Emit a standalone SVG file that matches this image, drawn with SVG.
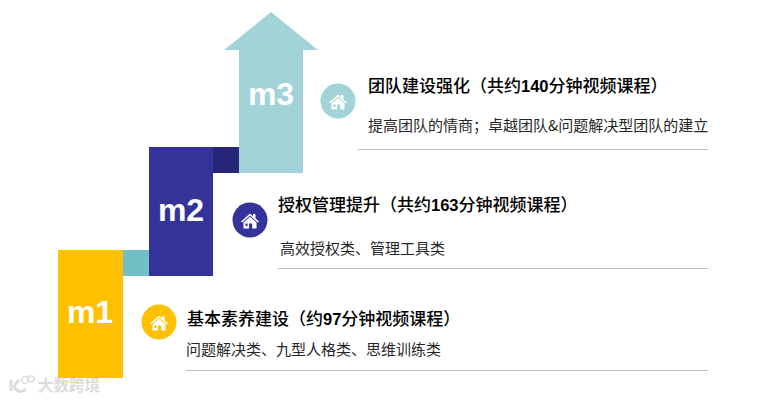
<svg xmlns="http://www.w3.org/2000/svg" width="764" height="400" viewBox="0 0 764 400">
<defs>
<style>
.m{font-family:"Liberation Sans",Arial,sans-serif;font-weight:700;font-size:32px;fill:#fff;text-anchor:middle}
.t{font-family:"Liberation Sans","Noto Sans CJK SC",sans-serif;font-size:17px;font-weight:500;fill:#000}
.d{font-weight:700;font-size:16.5px}
.s{font-family:"Noto Sans CJK SC",sans-serif;font-size:15px;fill:#262626}
.r{stroke:#bfbfbf;stroke-width:1;fill:none}
</style>
<g id="house">
<path d="M-9 0.5L0 -7.5L3 -4.8V-7H5.5V-2.6L9 0.5L7.8 1.5L0 -5.4L-7.8 1.5Z" fill="#fff"/>
<path d="M-6.5 1.5L0 -4.2L6.5 1.5V7.5H2.2V2.5H-1V7.5H-6.5Z M-4.6 2.5V5H-2.4V2.5Z" fill="#fff" fill-rule="evenodd"/>
</g>
</defs>
<rect width="764" height="400" fill="#fff"/>
<g id="connectors">
<rect x="123" y="250" width="26" height="26" fill="#72bfc6"/>
<rect x="213" y="147" width="26" height="26" fill="#272779"/>
<line class="r" x1="358" y1="149.5" x2="708" y2="149.5"/>
<line class="r" x1="278" y1="268.5" x2="708" y2="268.5"/>
<line class="r" x1="186" y1="370.5" x2="708" y2="370.5"/>
</g>
<g id="m1">
<rect x="58" y="250" width="65" height="128" fill="#ffc000"/>
<text class="m" x="90" y="323">m1</text>
<circle cx="159" cy="322" r="17.5" fill="#ffc000"/>
<use href="#house" x="159" y="323"/>
<text class="t" x="187" y="325">基本素养建设（约<tspan class="d">97</tspan>分钟视频课程）</text>
<text class="s" x="186" y="355">问题解决类、九型人格类、思维训练类</text>
</g>
<g id="m2">
<rect x="149" y="147" width="64" height="129" fill="#333399"/>
<text class="m" x="181" y="221">m2</text>
<circle cx="250" cy="220" r="17.5" fill="#333399"/>
<use href="#house" x="250" y="221"/>
<text class="t" x="278" y="211">授权管理提升（共约<tspan class="d">163</tspan>分钟视频课程）</text>
<text class="s" x="280" y="254">高效授权类、管理工具类</text>
</g>
<g id="m3">
<path d="M271 12L318 50H303V173H239V50H224Z" fill="#a1d3d9"/>
<text class="m" x="271" y="105">m3</text>
<circle cx="338" cy="101" r="17.5" fill="#a1d3d9"/>
<use href="#house" x="338" y="102"/>
<text class="t" x="368" y="92">团队建设强化（共约<tspan class="d">140</tspan>分钟视频课程）</text>
<text class="s" x="368" y="131">提高团队的情商；卓越团队&amp;问题解决型团队的建立</text>
</g>
<g id="watermark" opacity="0.8">
<path d="M11 380V391M14 386L19 380M14 386C16 392 22 393 26 389" fill="none" stroke="#d4d4d4" stroke-width="3"/>
<circle cx="25" cy="380" r="3.5" fill="none" stroke="#d4d4d4" stroke-width="1.5"/>
<circle cx="31" cy="379" r="3" fill="none" stroke="#d4d4d4" stroke-width="1.5"/>
<text x="38" y="391" font-family="'Noto Sans CJK SC',sans-serif" font-size="15.5" font-weight="700" fill="#d4d4d4">大数跨境</text>
</g>
</svg>
